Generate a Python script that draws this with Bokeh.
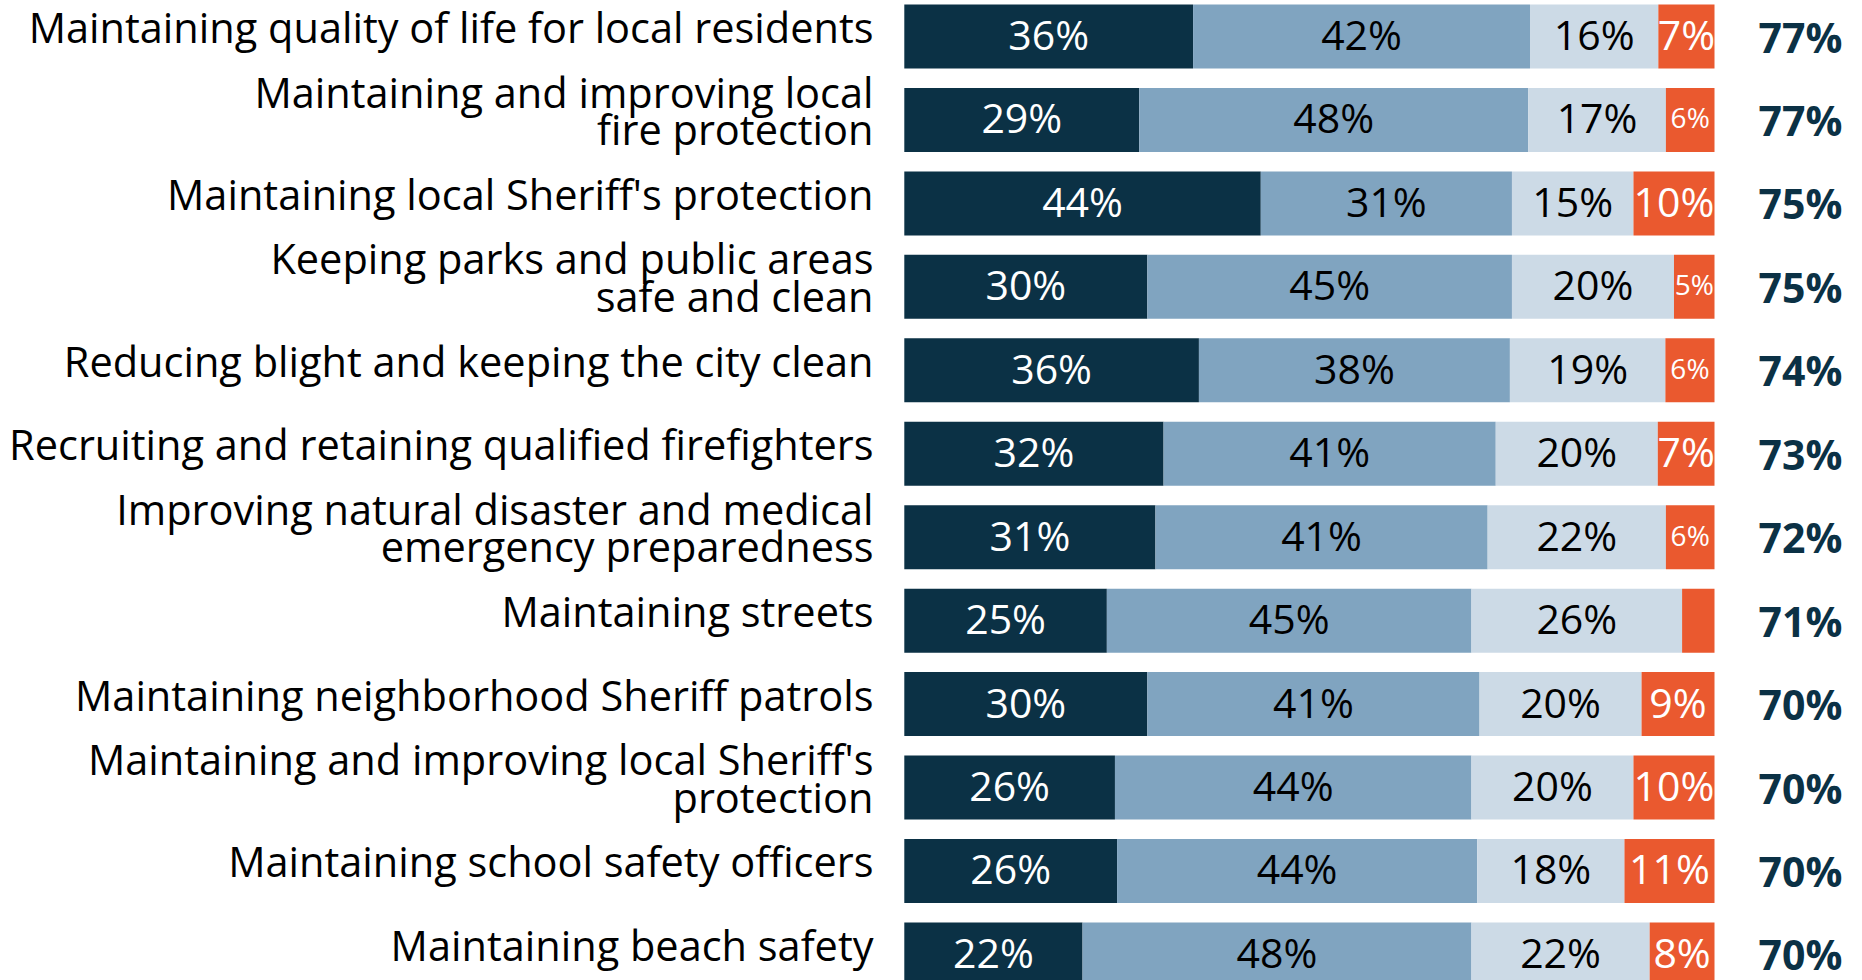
from bokeh.plotting import figure
from bokeh.models import ColumnDataSource, Range1d
from bokeh.core.properties import value
from bokeh.embed import file_html
from bokeh.resources import INLINE

categories = [
    "Maintaining quality of life for local residents",
    "Maintaining and improving local\nfire protection",
    "Maintaining local Sheriff's protection",
    "Keeping parks and public areas\nsafe and clean",
    "Reducing blight and keeping the city clean",
    "Recruiting and retaining qualified firefighters",
    "Improving natural disaster and medical\nemergency preparedness",
    "Maintaining streets",
    "Maintaining neighborhood Sheriff patrols",
    "Maintaining and improving local Sheriff's\nprotection",
    "Maintaining school safety officers",
    "Maintaining beach safety",
]
extremely = [36, 29, 44, 30, 36, 32, 31, 25, 30, 26, 26, 22]
very = [42, 48, 31, 45, 38, 41, 41, 45, 41, 44, 44, 48]
somewhat = [16, 17, 15, 20, 19, 20, 22, 26, 20, 20, 18, 22]
not_important = [7, 6, 10, 5, 6, 7, 6, 4, 9, 10, 11, 8]
totals = [77, 77, 75, 75, 74, 73, 72, 71, 70, 70, 70, 70]

series = [extremely, very, somewhat, not_important]
colors = ["#0b3145", "#80a4c0", "#ccdae6", "#ea592f"]
text_colors = ["#ffffff", "#000000", "#000000", "#ffffff"]

FONT = "Open Sans"
W, H = 1862, 980
PX_PER_PCT = 8.102
PX_PER_ROW = 83.45
X0 = 903.8
Y0 = 36.0

p = figure(width=W, height=H, output_backend="svg", toolbar_location=None,
           x_range=Range1d(-X0 / PX_PER_PCT, (W - X0) / PX_PER_PCT),
           y_range=Range1d((H - Y0) / PX_PER_ROW, -Y0 / PX_PER_ROW),
           min_border=0, outline_line_color=None)
p.axis.visible = False
p.grid.visible = False
p.background_fill_color = "white"
p.border_fill_color = "white"

n = len(categories)
rows = list(range(n))
row_sums = [sum(s[i] for s in series) for i in rows]
cum = [0.0] * n
for k, s in enumerate(series):
    left = [cum[i] for i in rows]
    right = [cum[i] + s[i] * 100.0 / row_sums[i] for i in rows]
    cum = right
    mids = [(a + b) / 2 for a, b in zip(left, right)]
    src = ColumnDataSource(dict(y=rows, left=left, right=right))
    p.hbar(y="y", left="left", right="right", height=0.767, source=src,
           fill_color=colors[k], line_color=None)
    big = [i for i in rows if s[i] >= 7]
    small = [i for i in rows if 5 <= s[i] < 7]
    for idxs, size in ((big, "41px"), (small, "28px")):
        if not idxs:
            continue
        t = ColumnDataSource(dict(x=[mids[i] for i in idxs],
                                  y=[i - 0.03 for i in idxs],
                                  lab=[f"{s[i]}%" for i in idxs]))
        p.text(x="x", y="y", text="lab", source=t, text_align="center",
               text_baseline="middle", text_font=value(FONT),
               text_font_size=size, text_color=text_colors[k])

lab_x = (873 - X0) / PX_PER_PCT
lab_src = ColumnDataSource(dict(x=[lab_x] * n, y=[r - 0.115 for r in rows], lab=categories))
p.text(x="x", y="y", text="lab", source=lab_src, text_align="right",
       text_baseline="middle", text_font=value(FONT), text_font_size="41.5px",
       text_color="#000000", text_line_height=0.67)

tot_x = (1800 - X0) / PX_PER_PCT
tot_src = ColumnDataSource(dict(x=[tot_x] * n, y=rows, lab=[f"{t}%" for t in totals]))
p.text(x="x", y="y", text="lab", source=tot_src, text_align="center",
       text_baseline="middle", text_font=value(FONT), text_font_size="41px",
       text_font_style="bold", text_color="#0b3145")

open("out.html", "w").write(file_html(p, INLINE))
